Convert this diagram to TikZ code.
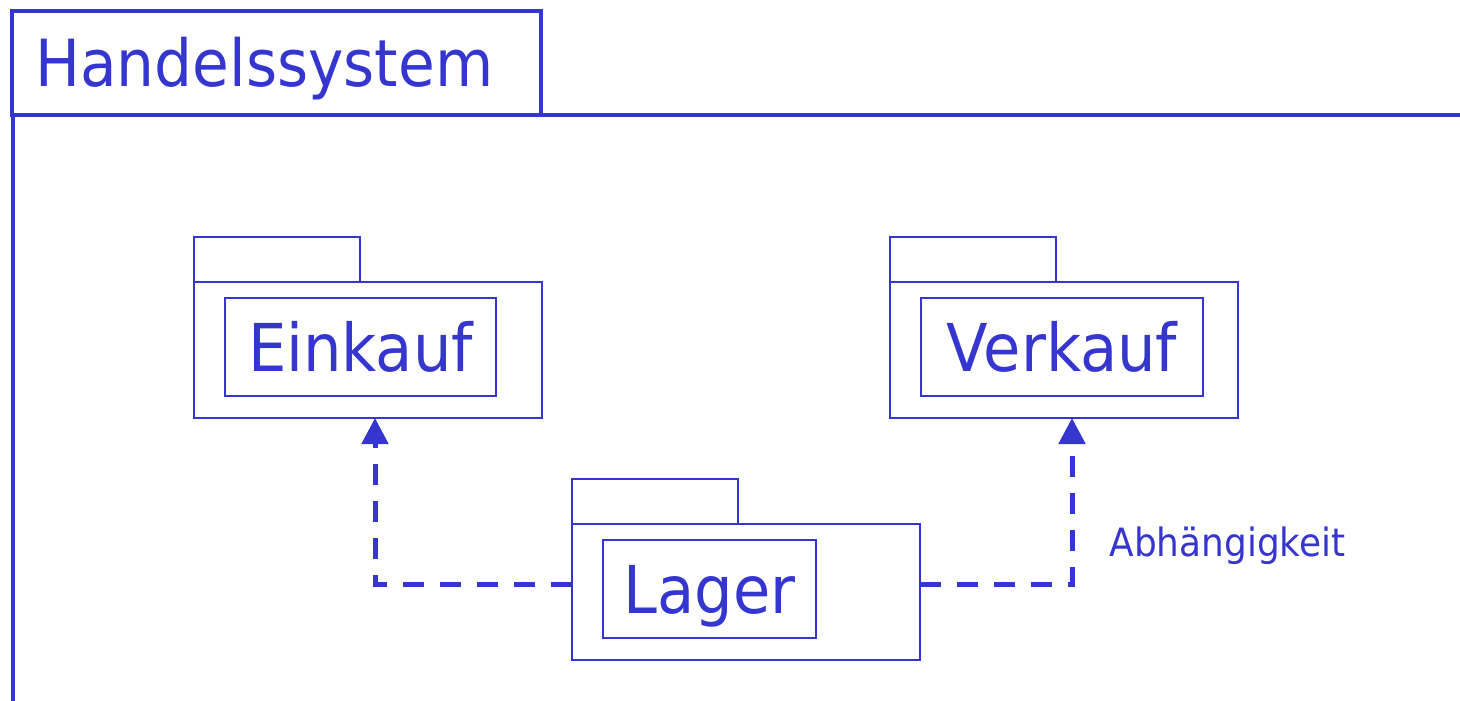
\documentclass[tikz,border=0pt]{standalone}
\usepackage{fontspec}
\setmainfont{DejaVu Sans}[FakeStretch=0.92]
\usetikzlibrary{arrows.meta}
\definecolor{umlblue}{RGB}{53,53,207}

\begin{document}
\begin{tikzpicture}[x=1pt, y=-1pt, color=umlblue,
	pkg/.style={draw, line width=2pt, outer sep=0pt, minimum width=348pt, minimum height=136pt},
	tab/.style={draw, line width=2pt, outer sep=0pt, minimum width=166pt, minimum height=45pt, anchor=south west},
	inner/.style={draw, line width=2pt, inner sep=0pt, minimum height=98pt, anchor=north west,
		text height=48pt, text depth=0pt, font=\fontsize{66}{70}\selectfont},
	dep/.style={line width=5pt, dash pattern=on 21pt off 16pt, -{Triangle[width=26pt, length=26pt]}}]
	\useasboundingbox (0, 0) rectangle (1460, 701);

	% frame
	\draw[line width=4.5pt] (12, 11) rectangle (541, 115);
	\draw[line width=4.5pt] (1470, 115) -- (13, 115) -- (13, 710);
	\node[anchor=base west, inner sep=0pt, font=\fontsize{65}{70}\selectfont] (title) at (35, 86) {Handelssystem};

	% packages
	\node[pkg] (einkauf) at (368, 350) {};
	\node[pkg] (verkauf) at (1064, 350) {};
	\node[pkg] (lager) at (746, 592) {};
	\foreach \p in {einkauf, verkauf, lager}
		\node[tab] (\p Tab) at (\p.north west) {};
	\node[inner, minimum width=271pt] (einkaufName) at ([shift={(30pt,-15pt)}]einkauf.north west) {Einkauf};
	\node[inner, minimum width=282pt] (verkaufName) at ([shift={(30pt,-15pt)}]verkauf.north west) {Verkauf};
	\node[inner, minimum width=213pt] (lagerName) at ([shift={(30pt,-15pt)}]lager.north west) {Lager};

	% dependencies
	\draw[dep] ([yshift=8pt]lager.west) -| ([xshift=7pt]einkauf.south);
	\draw[dep] ([yshift=8pt]lager.east) -| ([xshift=8pt]verkauf.south)
		node[pos=0.5, anchor=base west, inner sep=0pt, xshift=35pt, yshift=28pt, font=\fontsize{39}{44}\selectfont] (depLabel) {Abhängigkeit};
\end{tikzpicture}
\end{document}
